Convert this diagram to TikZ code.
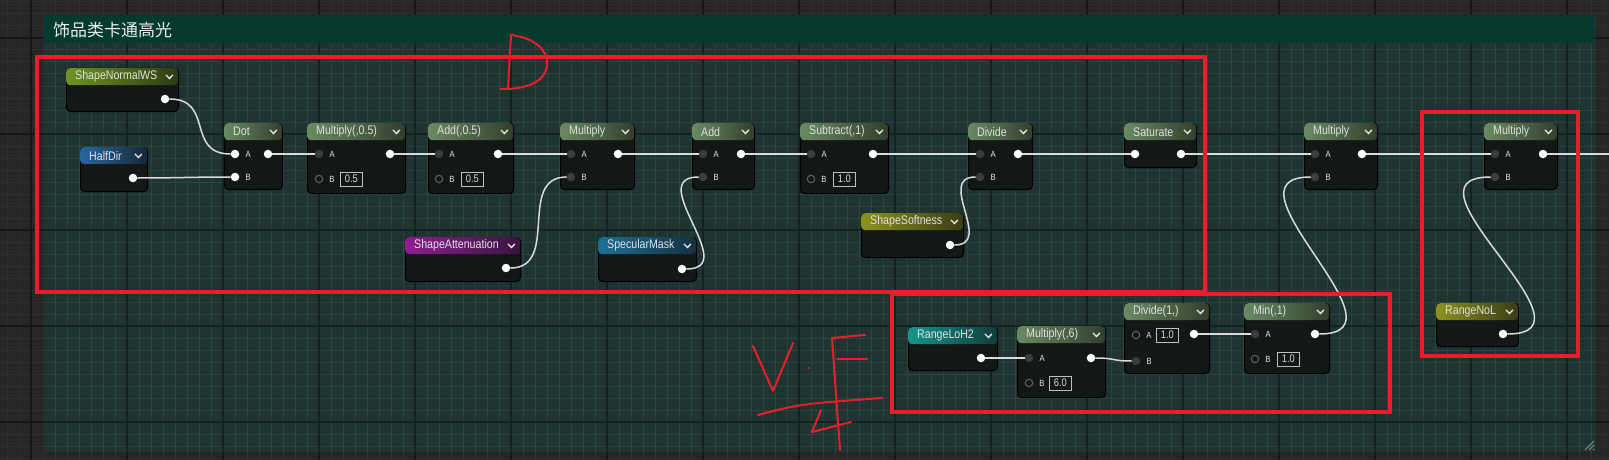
\documentclass[tikz,border=0pt]{standalone}
\usepackage{fontspec}
\newfontfamily\uefont{Liberation Sans}[FakeStretch=0.85]
\newfontfamily\cjk{Noto Sans CJK SC}
\definecolor{bgc}{HTML}{262626}
\definecolor{bgmin}{HTML}{2F2F2F}
\definecolor{bgmaj}{HTML}{161616}
\definecolor{comc}{HTML}{1F3431}
\definecolor{commin}{HTML}{2A4540}
\definecolor{commaj}{HTML}{132420}
\definecolor{titlec}{HTML}{073A2F}
\definecolor{bodyc}{HTML}{131816}
\definecolor{mathl}{HTML}{6A8A62}
\definecolor{mathr}{HTML}{323F2E}
\definecolor{olivel}{HTML}{6F9420}
\definecolor{oliver}{HTML}{2C3A14}
\definecolor{bluel}{HTML}{2566A0}
\definecolor{bluer}{HTML}{18283A}
\definecolor{purpl}{HTML}{8E1E92}
\definecolor{purpr}{HTML}{3A1440}
\definecolor{cyanl}{HTML}{1C6F98}
\definecolor{cyanr}{HTML}{15303F}
\definecolor{yell}{HTML}{8C921E}
\definecolor{yelr}{HTML}{3A3C16}
\definecolor{teall}{HTML}{15958C}
\definecolor{tealr}{HTML}{103C3A}
\definecolor{wirec}{HTML}{DADADA}
\definecolor{redc}{HTML}{E81F2A}
\definecolor{pinoffc}{HTML}{3C3C3C}
\tikzset{
  nbody/.style={draw=black, line width=1pt, fill=bodyc, rounded corners=4pt, anchor=north west, inner sep=0pt},
  nhead/.style={rounded corners=4pt, anchor=north west, inner sep=0pt, minimum height=17pt},
  mathhead/.style={nhead, left color=mathl, right color=mathr},
  htext/.style={anchor=west, xshift=9pt, inner sep=0pt, text=white!88!black, font=\uefont\fontsize{12.5}{13}\selectfont},
  pinon/.style={circle, fill=white, inner sep=0pt, minimum size=8.5pt},
  pinoff/.style={circle, fill=pinoffc, inner sep=0pt, minimum size=8.5pt},
  pinfree/.style={circle, draw=pinoffc!80!white, line width=1pt, fill=bodyc, inner sep=0pt, minimum size=7.5pt},
  plab/.style={xshift=6pt, inner sep=0pt, text=white!90!black, font=\uefont\fontsize{9}{9}\selectfont},
  valbox/.style={draw=white!75!black, line width=0.8pt, anchor=west, inner sep=0pt, minimum width=22pt, minimum height=14pt, text=white!85!black, font=\uefont\fontsize{11}{11}\selectfont},
  wire/.style={draw=wirec, line width=1.5pt},
  redbox/.style={draw=redc, line width=4pt},
  hand/.style={draw=redc, line width=2pt, line cap=round, line join=round},
  chevline/.style={draw=white!90!black, line width=1.3pt},
  chev/.pic={\draw[chevline] (-3.5,-1.8) -- (0,1.8) -- (3.5,-1.8);},
}
\begin{document}
\begin{tikzpicture}[x=1pt, y=-1pt]
    \useasboundingbox (0,0) rectangle (1609,460);
    % editor background
    \fill[bgc] (0,0) rectangle (1609,460);
    \foreach \gx in {7,19,...,1609} \draw[bgmin, line width=1pt] (\gx,0) -- (\gx,460);
    \foreach \gy in {2,14,...,460} \draw[bgmin, line width=1pt] (0,\gy) -- (1609,\gy);
    \foreach \gx in {31,127,...,1609} \draw[bgmaj, line width=1.5pt] (\gx,0) -- (\gx,460);
    \foreach \gy in {38,134,...,460} \draw[bgmaj, line width=1.5pt] (0,\gy) -- (1609,\gy);
    % comment box
    \fill[comc] (44,15) rectangle (1596,452);
    \begin{scope}
      \clip (44,15) rectangle (1596,452);
      \foreach \gx in {7,19,...,1609} \draw[commin, line width=1pt] (\gx,0) -- (\gx,460);
      \foreach \gy in {2,14,...,460} \draw[commin, line width=1pt] (0,\gy) -- (1609,\gy);
      \foreach \gx in {31,127,...,1609} \draw[commaj, line width=1.5pt] (\gx,0) -- (\gx,460);
      \foreach \gy in {38,134,...,460} \draw[commaj, line width=1.5pt] (0,\gy) -- (1609,\gy);
    \end{scope}
    \fill[titlec] (44,15) rectangle (1594,43);
    \node[anchor=west, inner sep=0pt, text=white!92!black, font=\cjk\fontsize{17}{17}\selectfont] (title) at (53,30) {饰品类卡通高光};
    \draw[white!55!black, line width=1pt] (1594,441) -- (1585,450) (1594,445) -- (1589,450) (1594,449) -- (1593,450);

    % parameter nodes
    \node[nbody, minimum width=112, minimum height=43] (snws) at (66,68) {};
    \node[nhead, left color=olivel, right color=oliver, minimum width=112, label={[htext]west:ShapeNormalWS}] (snwsH) at (66,68) {};
    \pic at ([xshift=-9pt]snwsH.east) {chev};
    \node[pinon] (snwsO) at (165,99) {};

    \node[nbody, minimum width=67, minimum height=44] (hdir) at (80,147) {};
    \node[nhead, left color=bluel, right color=bluer, minimum width=67, label={[htext]west:HalfDir}] (hdirH) at (80,147) {};
    \pic at ([xshift=-9pt]hdirH.east) {chev};
    \node[pinon] (hdirO) at (133,178) {};

    \node[nbody, minimum width=115, minimum height=44] (satt) at (405,237) {};
    \node[nhead, left color=purpl, right color=purpr, minimum width=115, label={[htext]west:ShapeAttenuation}] (sattH) at (405,237) {};
    \pic at ([xshift=-9pt]sattH.east) {chev};
    \node[pinon] (sattO) at (506,268) {};

    \node[nbody, minimum width=98, minimum height=44] (smask) at (598,237) {};
    \node[nhead, left color=cyanl, right color=cyanr, minimum width=98, label={[htext]west:SpecularMask}] (smaskH) at (598,237) {};
    \pic at ([xshift=-9pt]smaskH.east) {chev};
    \node[pinon] (smaskO) at (682,269) {};

    \node[nbody, minimum width=102, minimum height=44] (ssoft) at (861,213) {};
    \node[nhead, left color=yell, right color=yelr, minimum width=102, label={[htext]west:ShapeSoftness}] (ssoftH) at (861,213) {};
    \pic at ([xshift=-9pt]ssoftH.east) {chev};
    \node[pinon] (ssoftO) at (950,245) {};

    \node[nbody, minimum width=82, minimum height=43] (rnol) at (1436,303) {};
    \node[nhead, left color=yell, right color=yelr, minimum width=82, label={[htext]west:RangeNoL}] (rnolH) at (1436,303) {};
    \pic at ([xshift=-9pt]rnolH.east) {chev};
    \node[pinon] (rnolO) at (1503,334) {};

    \node[nbody, minimum width=89, minimum height=43] (rloh) at (908,327) {};
    \node[nhead, left color=teall, right color=tealr, minimum width=89, label={[htext]west:RangeLoH2}] (rlohH) at (908,327) {};
    \pic at ([xshift=-9pt]rlohH.east) {chev};
    \node[pinon] (rlohO) at (981,358) {};

    % math nodes, top row
    \node[nbody, minimum width=58, minimum height=66] (dot) at (224,123) {};
    \node[mathhead, minimum width=58, label={[htext]west:Dot}] (dotH) at (224,123) {};
    \pic at ([xshift=-9pt]dotH.east) {chev};
    \node[pinon, label={[plab]right:A}] (dotA) at (235,154) {};
    \node[pinon, label={[plab]right:B}] (dotB) at (235,177) {};
    \node[pinon] (dotO) at (268,154) {};

    \node[nbody, minimum width=98, minimum height=70] (mulh) at (307,123) {};
    \node[mathhead, minimum width=98, label={[htext]west:{Multiply(,0.5)}}] (mulhH) at (307,123) {};
    \pic at ([xshift=-9pt]mulhH.east) {chev};
    \node[pinoff, label={[plab]right:A}] (mulhA) at (319,154) {};
    \node[pinfree, label={[plab]right:B}] (mulhB) at (319,179) {};
    \node[valbox] (mulhV) at (340,179) {0.5};
    \node[pinon] (mulhO) at (390,154) {};

    \node[nbody, minimum width=85, minimum height=70] (addh) at (428,123) {};
    \node[mathhead, minimum width=85, label={[htext]west:{Add(,0.5)}}] (addhH) at (428,123) {};
    \pic at ([xshift=-9pt]addhH.east) {chev};
    \node[pinoff, label={[plab]right:A}] (addhA) at (439,154) {};
    \node[pinfree, label={[plab]right:B}] (addhB) at (439,179) {};
    \node[valbox] (addhV) at (461,179) {0.5};
    \node[pinon] (addhO) at (498,154) {};

    \node[nbody, minimum width=74, minimum height=66] (mul1) at (560,123) {};
    \node[mathhead, minimum width=74, label={[htext]west:Multiply}] (mul1H) at (560,123) {};
    \pic at ([xshift=-9pt]mul1H.east) {chev};
    \node[pinoff, label={[plab]right:A}] (mul1A) at (571,154) {};
    \node[pinoff, label={[plab]right:B}] (mul1B) at (571,177) {};
    \node[pinon] (mul1O) at (618,154) {};

    \node[nbody, minimum width=62, minimum height=66] (add1) at (692,123) {};
    \node[mathhead, minimum width=62, label={[htext]west:Add}] (add1H) at (692,123) {};
    \pic at ([xshift=-9pt]add1H.east) {chev};
    \node[pinoff, label={[plab]right:A}] (add1A) at (703,154) {};
    \node[pinoff, label={[plab]right:B}] (add1B) at (703,177) {};
    \node[pinon] (add1O) at (741,154) {};

    \node[nbody, minimum width=88, minimum height=70] (sub1) at (800,123) {};
    \node[mathhead, minimum width=88, label={[htext]west:{Subtract(,1)}}] (sub1H) at (800,123) {};
    \pic at ([xshift=-9pt]sub1H.east) {chev};
    \node[pinoff, label={[plab]right:A}] (sub1A) at (811,154) {};
    \node[pinfree, label={[plab]right:B}] (sub1B) at (811,179) {};
    \node[valbox] (sub1V) at (833,179) {1.0};
    \node[pinon] (sub1O) at (873,154) {};

    \node[nbody, minimum width=64, minimum height=66] (div1) at (968,123) {};
    \node[mathhead, minimum width=64, label={[htext]west:Divide}] (div1H) at (968,123) {};
    \pic at ([xshift=-9pt]div1H.east) {chev};
    \node[pinoff, label={[plab]right:A}] (div1A) at (980,154) {};
    \node[pinoff, label={[plab]right:B}] (div1B) at (980,177) {};
    \node[pinon] (div1O) at (1018,154) {};

    \node[nbody, minimum width=72, minimum height=44] (sat) at (1124,123) {};
    \node[mathhead, minimum width=72, label={[htext]west:Saturate}] (satH) at (1124,123) {};
    \pic at ([xshift=-9pt]satH.east) {chev};
    \node[pinon] (satI) at (1135,154) {};
    \node[pinon] (satO) at (1181,154) {};

    \node[nbody, minimum width=73, minimum height=66] (mul2) at (1304,123) {};
    \node[mathhead, minimum width=73, label={[htext]west:Multiply}] (mul2H) at (1304,123) {};
    \pic at ([xshift=-9pt]mul2H.east) {chev};
    \node[pinoff, label={[plab]right:A}] (mul2A) at (1315,154) {};
    \node[pinoff, label={[plab]right:B}] (mul2B) at (1315,177) {};
    \node[pinon] (mul2O) at (1362,154) {};

    \node[nbody, minimum width=73, minimum height=66] (mul3) at (1484,123) {};
    \node[mathhead, minimum width=73, label={[htext]west:Multiply}] (mul3H) at (1484,123) {};
    \pic at ([xshift=-9pt]mul3H.east) {chev};
    \node[pinoff, label={[plab]right:A}] (mul3A) at (1495,154) {};
    \node[pinoff, label={[plab]right:B}] (mul3B) at (1495,177) {};
    \node[pinon] (mul3O) at (1543,154) {};
    \coordinate (exit) at (1609,154);

    % math nodes, bottom row
    \node[nbody, minimum width=88, minimum height=71] (mul6) at (1017,326) {};
    \node[mathhead, minimum width=88, label={[htext]west:{Multiply(,6)}}] (mul6H) at (1017,326) {};
    \pic at ([xshift=-9pt]mul6H.east) {chev};
    \node[pinoff, label={[plab]right:A}] (mul6A) at (1029,358) {};
    \node[pinfree, label={[plab]right:B}] (mul6B) at (1029,383) {};
    \node[valbox] (mul6V) at (1049,383) {6.0};
    \node[pinon] (mul6O) at (1091,358) {};

    \node[nbody, minimum width=85, minimum height=70] (divr) at (1124,303) {};
    \node[mathhead, minimum width=85, label={[htext]west:{Divide(1,)}}] (divrH) at (1124,303) {};
    \pic at ([xshift=-9pt]divrH.east) {chev};
    \node[pinfree, label={[plab]right:A}] (divrA) at (1136,335) {};
    \node[valbox] (divrV) at (1156,335) {1.0};
    \node[pinoff, label={[plab]right:B}] (divrB) at (1136,361) {};
    \node[pinon] (divrO) at (1194,334) {};

    \node[nbody, minimum width=85, minimum height=70] (min1) at (1244,303) {};
    \node[mathhead, minimum width=85, label={[htext]west:{Min(,1)}}] (min1H) at (1244,303) {};
    \pic at ([xshift=-9pt]min1H.east) {chev};
    \node[pinoff, label={[plab]right:A}] (min1A) at (1255,334) {};
    \node[pinfree, label={[plab]right:B}] (min1B) at (1255,359) {};
    \node[valbox] (min1V) at (1277,359) {1.0};
    \node[pinon] (min1O) at (1315,334) {};

    % wires
    \draw[wire] (snwsO.east) .. controls +(45,0) and +(-45,0) .. (dotA.west);
    \draw[wire] (hdirO.east) .. controls +(40,0) and +(-40,0) .. (dotB.west);
    \draw[wire] (dotO.east) -- (mulhA.west);
    \draw[wire] (mulhO.east) -- (addhA.west);
    \draw[wire] (addhO.east) -- (mul1A.west);
    \draw[wire] (sattO.east) .. controls +(50,0) and +(-50,0) .. (mul1B.west);
    \draw[wire] (mul1O.east) -- (add1A.west);
    \draw[wire] (smaskO.east) .. controls +(55,0) and +(-55,0) .. (add1B.west);
    \draw[wire] (add1O.east) -- (sub1A.west);
    \draw[wire] (sub1O.east) -- (div1A.west);
    \draw[wire] (ssoftO.east) .. controls +(40,0) and +(-40,0) .. (div1B.west);
    \draw[wire] (div1O.east) -- (satI.west);
    \draw[wire] (satO.east) -- (mul2A.west);
    \draw[wire] (mul2O.east) -- (mul3A.west);
    \draw[wire] (mul3O.east) -- (exit);
    \draw[wire] (rlohO.east) -- (mul6A.west);
    \draw[wire] (mul6O.east) .. controls +(20,0) and +(-20,0) .. (divrB.west);
    \draw[wire] (divrO.east) -- (min1A.west);
    \draw[wire] (min1O.east) .. controls +(96,0) and +(-96,0) .. (mul2B.west);
    \draw[wire] (rnolO.east) .. controls +(100,0) and +(-100,0) .. (mul3B.west);

    % red marks
    \draw[redbox] (37,57) rectangle (1205,292);
    \draw[redbox] (892,294) rectangle (1390,412);
    \draw[redbox] (1422,112) rectangle (1578,356);
    % D
    \draw[hand] (500,89) -- (508,89);
    \draw[hand] (511,35) -- (508,89);
    \draw[hand] (511,35) .. controls (535,38) and (548,50) .. (547,65) .. controls (546,80) and (530,88) .. (508,89);
    % V.F/4
    \draw[hand] (753,346) -- (773,391) -- (793,343);
    \fill[redc] (809,368) circle (1.2);
    \draw[hand] (832,338) -- (865,335);
    \draw[hand] (837,359) -- (867,359);
    \draw[hand] (832,338) -- (840,450);
    \draw[hand] (758,415) .. controls (800,404) .. (882,398);
    \draw[hand] (821,410) -- (812,432) -- (851,422);
\end{tikzpicture}
\end{document}
